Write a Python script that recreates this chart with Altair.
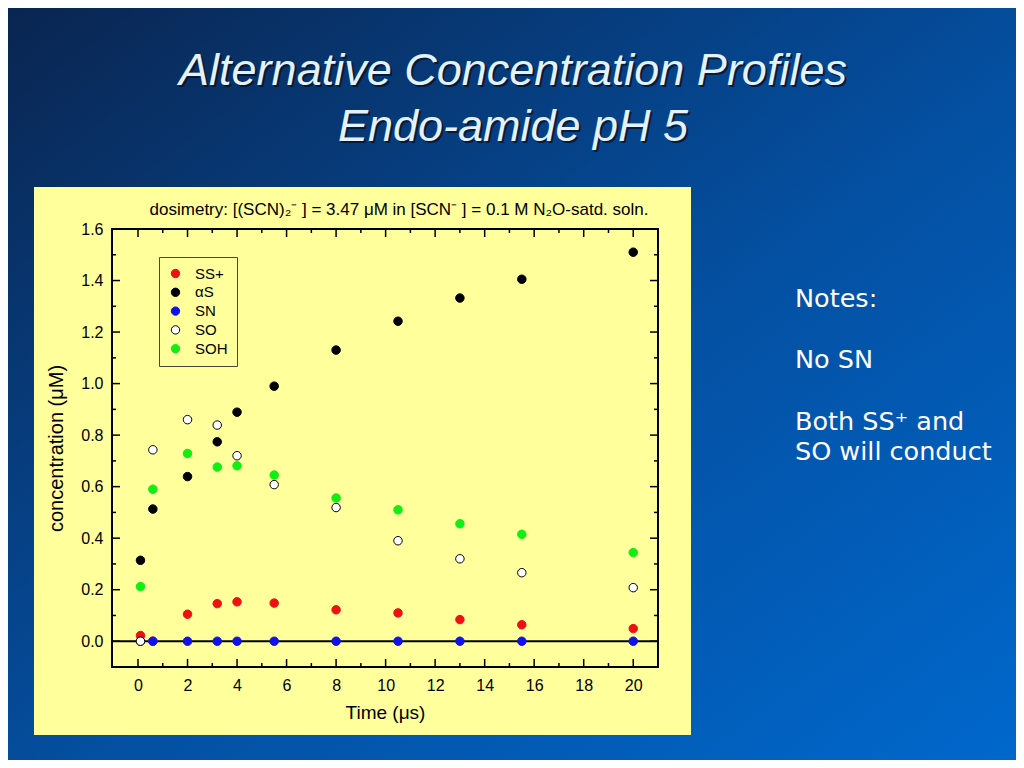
import altair as alt
import pandas as pd

# ---------------- data ----------------
times = [0.1, 0.6, 2.0, 3.2, 4.0, 5.5, 8.0, 10.5, 13.0, 15.5, 20.0]
series_names = ["SS+", "αS", "SN", "SO", "SOH"]
ss_plus = [0.022, 0.0, 0.105, 0.146, 0.153, 0.148, 0.122, 0.110, 0.084, 0.064, 0.049]
alpha_s = [0.314, 0.513, 0.639, 0.774, 0.889, 0.990, 1.130, 1.242, 1.332, 1.405, 1.510]
sn = [0.0, 0.0, 0.0, 0.0, 0.0, 0.0, 0.0, 0.0, 0.0, 0.0, 0.0]
so = [0.0, 0.743, 0.860, 0.839, 0.720, 0.608, 0.519, 0.390, 0.320, 0.266, 0.208]
soh = [0.212, 0.590, 0.729, 0.676, 0.681, 0.645, 0.556, 0.510, 0.456, 0.415, 0.344]

x_major_ticks = [0, 2, 4, 6, 8, 10, 12, 14, 16, 18, 20]
x_minor_ticks = [1, 3, 5, 7, 9, 11, 13, 15, 17, 19]
y_major_ticks = [0.0, 0.2, 0.4, 0.6, 0.8, 1.0, 1.2, 1.4, 1.6]
y_minor_ticks = [0.1, 0.3, 0.5, 0.7, 0.9, 1.1, 1.3, 1.5]
zero_level = [0.0]

title_lines = ["Alternative Concentration Profiles", "Endo-amide pH 5"]
dosimetry_text = "dosimetry: [(SCN)₂⁻ ] = 3.47 μM in [SCN⁻ ] = 0.1 M N₂O-satd. soln."
notes_lines = ["Notes:", "No SN", "Both SS⁺ and", "SO will conduct"]

fill_colors = ["#ee1111", "#000000", "#1111ee", "#ffffff", "#11ee11"]
stroke_colors = ["#ee1111", "#000000", "#1111ee", "#000000", "#11ee11"]

rows = []
for name, vals in zip(series_names, [ss_plus, alpha_s, sn, so, soh]):
    for t, v in zip(times, vals):
        rows.append({"series": name, "time": t, "conc": v})
df = pd.DataFrame(rows)

# ---------------- layout ----------------
W, H = 546, 438
PANEL = "#FFFF9C"
FONT = "Liberation Sans"
one = pd.DataFrame({"k": [0]})

xs = alt.Scale(domain=[-1.05, 21], nice=False, zero=False)
ys = alt.Scale(domain=[-0.1, 1.6], nice=False, zero=False)
x_axis = alt.Axis(title="Time (μs)", values=x_major_ticks, labelPadding=10,
                  titlePadding=10, titleFontSize=19, zindex=1)
y_axis = alt.Axis(title="concentration (μM)", values=y_major_ticks, format=".1f",
                  labelPadding=9, titlePadding=14, titleFontSize=20, zindex=1)

bg = alt.Chart(one).mark_rect(
    color=alt.Gradient(
        gradient="linear",
        stops=[alt.GradientStop(color="#0a2550", offset=0),
               alt.GradientStop(color="#0450a2", offset=0.55),
               alt.GradientStop(color="#0068cc", offset=1)],
        x1=0, y1=0, x2=1, y2=1)
).encode(x=alt.value(-104), x2=alt.value(904), y=alt.value(-221), y2=alt.value(531))

panel = alt.Chart(one).mark_rect(color=PANEL).encode(
    x=alt.value(-78), x2=alt.value(579), y=alt.value(-42), y2=alt.value(506))

frame = alt.Chart(one).mark_rect(fill="transparent", stroke="black", strokeWidth=2).encode(
    x=alt.value(0), x2=alt.value(W), y=alt.value(0), y2=alt.value(H))

zero_line = alt.Chart(pd.DataFrame({"conc": zero_level})).mark_rule(color="black", strokeWidth=2).encode(
    y=alt.Y("conc:Q", scale=ys, axis=y_axis))

def xticks(vals, length):
    d = pd.DataFrame({"time": vals})
    b = alt.Chart(d).mark_rule(color="black", strokeWidth=1.5).encode(
        x=alt.X("time:Q", scale=xs, axis=x_axis), y=alt.value(H), y2=alt.value(H - length))
    t = alt.Chart(d).mark_rule(color="black", strokeWidth=1.5).encode(
        x=alt.X("time:Q", scale=xs, axis=x_axis), y=alt.value(0), y2=alt.value(length))
    return [b, t]

def yticks(vals, length):
    d = pd.DataFrame({"conc": vals})
    l = alt.Chart(d).mark_rule(color="black", strokeWidth=1.5).encode(
        y=alt.Y("conc:Q", scale=ys, axis=y_axis), x=alt.value(0), x2=alt.value(length))
    r = alt.Chart(d).mark_rule(color="black", strokeWidth=1.5).encode(
        y=alt.Y("conc:Q", scale=ys, axis=y_axis), x=alt.value(W), x2=alt.value(W - length))
    return [l, r]

tick_layers = xticks(x_major_ticks, 8) + xticks(x_minor_ticks, 4) + yticks(y_major_ticks, 8) + yticks(y_minor_ticks, 4)

legend_kw = dict(title=None, orient="none", legendX=47, legendY=28,
                 fillColor=PANEL, strokeColor="#444444", padding=9,
                 labelFont=FONT, labelFontSize=15, labelColor="black",
                 labelOffset=12, rowPadding=2.8, symbolSize=70, symbolType="circle",
                 symbolOpacity=1, symbolStrokeWidth=1)

points = alt.Chart(df).mark_circle(size=72, opacity=1, strokeWidth=1).encode(
    x=alt.X("time:Q", scale=xs, axis=x_axis),
    y=alt.Y("conc:Q", scale=ys, axis=y_axis),
    fill=alt.Fill("series:N", scale=alt.Scale(domain=series_names, range=fill_colors),
                  legend=alt.Legend(**legend_kw)),
    stroke=alt.Stroke("series:N", scale=alt.Scale(domain=series_names, range=stroke_colors),
                      legend=alt.Legend(**legend_kw)),
)

def text_layer(txt, x, y, size, font, color, align="center", style="normal", dx=0, dy=0, opacity=1):
    return alt.Chart(one).mark_text(
        text=txt, fontSize=size, font=font, color=color, align=align, baseline="alphabetic",
        fontStyle=style, dx=dx, dy=dy, opacity=opacity
    ).encode(x=alt.value(x), y=alt.value(y))

texts = []
for line, yb in zip(title_lines, [-144, -88]):
    texts.append(text_layer(line, 401, yb, 45, FONT, "#061428", style="italic", dx=2, dy=2, opacity=0.8))
    texts.append(text_layer(line, 401, yb, 45, FONT, "#e4f1ff", style="italic"))
texts.append(text_layer(dosimetry_text, 287, -14, 17, FONT, "black"))
for line, yb in zip(notes_lines, [78, 139, 201, 231]):
    texts.append(text_layer(line, 683, yb, 25.5, "DejaVu Sans", "#ffffff", align="left"))

chart = alt.layer(bg, panel, zero_line, *tick_layers, points, frame, *texts).properties(
    width=W, height=H,
    autosize=alt.AutoSizeParams(type="none"),
    padding={"left": 104, "top": 221, "right": 358, "bottom": 93},
    background="#0a3a7a",
).configure_view(stroke="transparent").configure_axis(
    labelFont=FONT, titleFont=FONT, labelColor="black", titleColor="black",
    labelFontSize=16, titleFontWeight="normal",
    domain=False, ticks=False, grid=False,
)

chart.save("out.html", embed_options={"renderer": "svg", "actions": False})
